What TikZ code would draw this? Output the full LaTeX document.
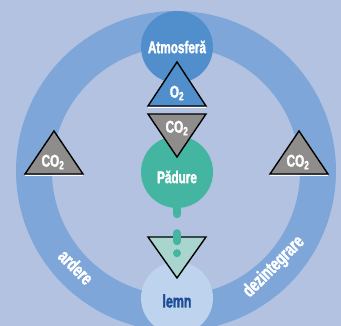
\documentclass[tikz,border=0pt]{standalone}
\usepackage{fontspec}
\newfontfamily\condfont[FakeStretch=0.69,FakeBold=1.8]{Liberation Sans}
\usetikzlibrary{positioning}

\definecolor{bgblue}{RGB}{178,194,224}
\definecolor{ringblue}{RGB}{126,166,216}
\definecolor{atmoblue}{RGB}{80,143,204}
\definecolor{padgreen}{RGB}{68,181,160}
\definecolor{lemnfill}{RGB}{190,211,237}
\definecolor{lemntext}{RGB}{28,76,152}
\definecolor{trigray}{RGB}{143,140,140}
\definecolor{trimint}{RGB}{168,214,206}

\begin{document}
\begin{tikzpicture}[x=1pt,y=1pt,
    bubble/.style={circle,draw=none,minimum size=72pt,inner sep=0pt},
    txt/.style={font=\condfont\bfseries\fontsize{17}{17}\selectfont,text=white,inner sep=0pt},
    pathtxt/.style={font=\condfont\bfseries\fontsize{19}{19}\selectfont,text=white,inner sep=0pt},
    tri/.style={draw=black,line width=1.4pt,line join=miter},
    baseline/.style={draw=white,line width=1pt},
    chain/.style={draw=padgreen,line width=8pt,line cap=round,
                  dash pattern=on 6pt off 19pt on 8pt off 12pt on 0pt off 30pt}]

  \useasboundingbox (0,0) rectangle (341,326);
  \clip (0,0) rectangle (341,326);
  \fill[bgblue] (0,0) rectangle (341,326);

  % cycle
  \coordinate (centre) at (176,155);
  \draw[ringblue,line width=36pt] (centre) circle (142pt);

  \node[bubble,fill=atmoblue] (atmosfera) at (177,279) {};
  \node[txt] (atmotxt) at (atmosfera) {Atmosferă};

  \node[bubble,fill=lemnfill] (lemn) at (177,28) {};
  \node[txt,text=lemntext,font=\condfont\bfseries\fontsize{18}{18}\selectfont]
       (lemntxt) at ([yshift=-3pt]lemn) {lemn};

  \node[bubble,fill=padgreen] (padure) at (177,154) {};
  \node[txt] (padtxt) at ([yshift=-5pt]padure) {Pădure};

  % triangles
  \draw[baseline] (148,218.5) -- (206,218.5);
  \draw[tri,fill=atmoblue] (148,220) -- (206,220) -- (177,264) -- cycle;
  \node[txt] (o2) at (177,233) {O\textsubscript{2}};

  \draw[tri,fill=trigray] (148,212) -- (206,212) -- (177,169) -- cycle;
  \node[txt] (co2top) at (177,198) {CO\textsubscript{2}};

  \draw[baseline] (25,150.5) -- (83,150.5);
  \draw[tri,fill=trigray] (25,152) -- (83,152) -- (54,195) -- cycle;
  \node[txt] (co2left) at (53,164) {CO\textsubscript{2}};

  \draw[baseline] (270,150.5) -- (328,150.5);
  \draw[tri,fill=trigray] (270,152) -- (328,152) -- (299,195) -- cycle;
  \node[txt] (co2right) at (298,164) {CO\textsubscript{2}};

  \draw[tri,fill=trimint] (148,89) -- (206,89) -- (177,48) -- cycle;
  \coordinate (chainend) at (177,60);
  \draw[chain] (padure.south) -- (chainend);

  % process labels
  \node[pathtxt,rotate=-45] (ardere) at (76,59) {ardere};
  \node[pathtxt,rotate=45] (dezint) at (274,59) {dezintegrare};

\end{tikzpicture}
\end{document}
